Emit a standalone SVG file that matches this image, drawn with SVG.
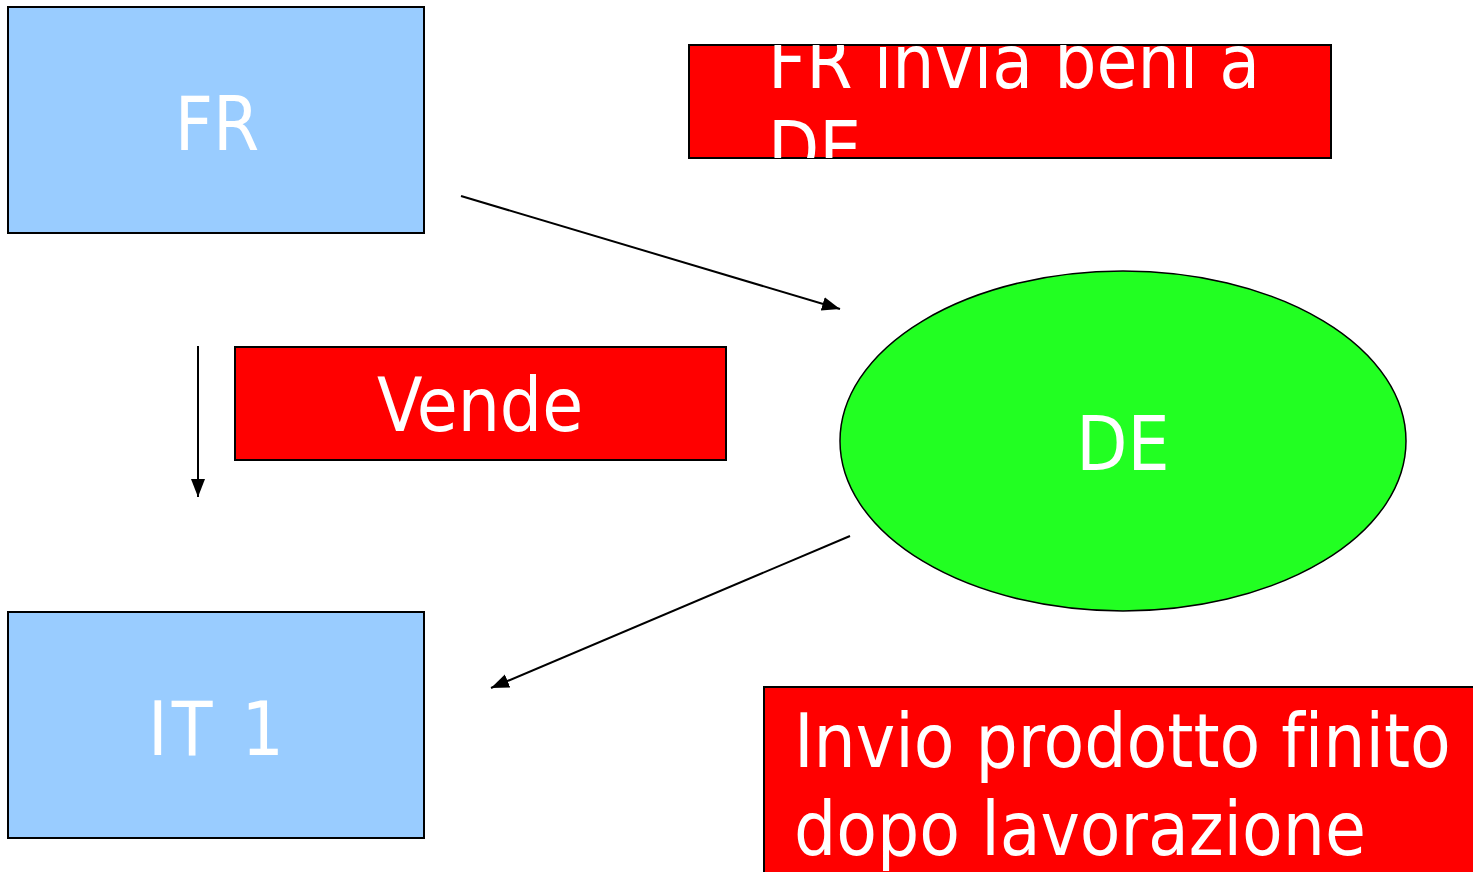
<svg xmlns="http://www.w3.org/2000/svg" width="1473" height="872" viewBox="0 0 1473 872">
<style>
.blue{fill:#99ccff;stroke:#000;stroke-width:2}
.red{fill:#ff0000;stroke:#000;stroke-width:2}
.green{fill:#22ff22;stroke:#000;stroke-width:1.5}
.t{font-family:"DejaVu Sans Condensed","DejaVu Sans",sans-serif;font-size:74px;fill:#fff;font-variant-ligatures:none}
.c{text-anchor:middle}
.conn{stroke:#000;stroke-width:2;fill:none;marker-end:url(#ah)}
</style>
<defs>
<marker id="ah" markerUnits="userSpaceOnUse" markerWidth="20" markerHeight="16" refX="18" refY="8" orient="auto">
<path d="M0,1 L18,8 L0,15 Z" fill="#000"/>
</marker>
<clipPath id="clip1"><rect x="689" y="45" width="642" height="113"/></clipPath>
</defs>
<g id="node-fr">
<rect class="blue" x="8" y="7" width="416" height="226"/>
<text class="t c" x="217" y="150">FR</text>
</g>
<g id="node-it1">
<rect class="blue" x="8" y="612" width="416" height="226"/>
<text class="t c" x="218" y="755" letter-spacing="4">IT 1</text>
</g>
<g id="node-de">
<ellipse class="green" cx="1123" cy="441" rx="283" ry="170"/>
<text class="t c" x="1123" y="470">DE</text>
</g>
<g id="label-invia">
<rect class="red" x="689" y="45" width="642" height="113"/>
<g clip-path="url(#clip1)">
<text class="t" x="768" y="88">FR invia beni a</text>
<text class="t" x="768" y="175">DE</text>
</g>
</g>
<g id="label-vende">
<rect class="red" x="235" y="347" width="491" height="113"/>
<text class="t c" x="480" y="431">Vende</text>
</g>
<g id="label-invio">
<rect class="red" x="764" y="687" width="720" height="200"/>
<text class="t" x="794" y="767">Invio prodotto finito</text>
<text class="t" x="794" y="855">dopo lavorazione</text>
</g>
<g id="connectors">
<line class="conn" x1="461" y1="196" x2="840" y2="309"/>
<line class="conn" x1="198" y1="346" x2="198" y2="497"/>
<line class="conn" x1="850" y1="536" x2="491" y2="688"/>
</g>
</svg>
